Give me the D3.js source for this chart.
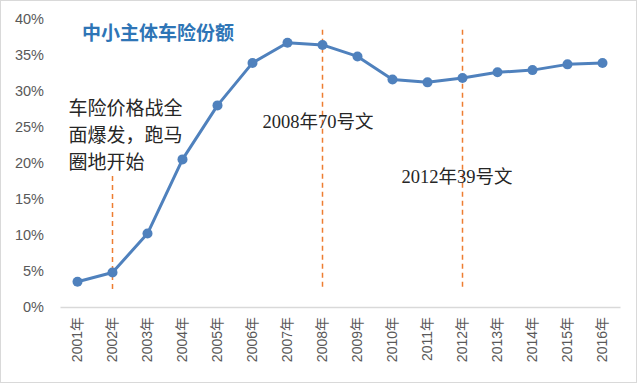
<!DOCTYPE html>
<html>
<head>
<meta charset="utf-8">
<script src="https://cdn.jsdelivr.net/npm/d3@7"></script>
<style>
  body { margin: 0; background: #fff; }
</style>
</head>
<body>
<script>
const years = ["2001年","2002年","2003年","2004年","2005年","2006年","2007年","2008年",
               "2009年","2010年","2011年","2012年","2013年","2014年","2015年","2016年"];
const share = [3.5, 4.8, 10.2, 20.5, 28.0, 33.9, 36.7, 36.4, 34.8, 31.6, 31.2, 31.8, 32.6, 32.9, 33.7, 33.9];
const yTicks = [0, 5, 10, 15, 20, 25, 30, 35, 40];
const markers = ["2002年", "2008年", "2012年"];
const title = "中小主体车险份额";
const notes = [
  {year: "2002年", lines: ["车险价格战全", "面爆发，跑马", "圈地开始"], dx: -44, y: 26.6},
  {year: "2008年", lines: ["2008年70号文"], dx: -60, y: 24.8},
  {year: "2012年", lines: ["2012年39号文"], dx: -61, y: 17.2}
];

const width = 640, height = 385;
const margin = {top: 19, right: 20, bottom: 78, left: 60};

const svg = d3.select("body").append("svg")
    .attr("width", width)
    .attr("height", height)
    .attr("font-family", "'Liberation Sans', 'Noto Sans CJK SC', sans-serif");

svg.append("rect")
    .attr("x", 0.5).attr("y", 0.5)
    .attr("width", 636).attr("height", 382)
    .attr("fill", "#fff")
    .attr("stroke", "#d9d9d9");

const x = d3.scaleBand()
    .domain(years)
    .range([margin.left, width - margin.right]);

const y = d3.scaleLinear()
    .domain([0, 40])
    .range([height - margin.bottom, margin.top]);

// y axis labels
svg.append("g")
    .attr("transform", `translate(${margin.left},0)`)
    .call(d3.axisLeft(y).tickValues(yTicks).tickFormat(d => d + "%").tickSize(0).tickPadding(16))
    .call(g => g.select(".domain").remove())
    .call(g => g.selectAll("text")
        .attr("font-size", 14.5)
        .attr("fill", "#595959")
        .attr("font-family", "'Liberation Sans', sans-serif"));

// x axis
const xAxis = svg.append("g")
    .attr("transform", `translate(0,${y(0)})`)
    .call(d3.axisBottom(x).tickSize(0));

xAxis.select(".domain")
    .attr("stroke", "#d9d9d9")
    .attr("stroke-width", 1.5);

xAxis.selectAll("text")
    .attr("font-size", 14)
    .attr("fill", "#595959")
    .attr("transform", "rotate(-90)")
    .attr("text-anchor", "end")
    .attr("x", -10)
    .attr("y", 0)
    .attr("dy", "0.35em")
    .attr("font-family", "'Liberation Sans', 'Noto Sans CJK SC', sans-serif");

// dashed markers
svg.append("g")
    .selectAll("line")
    .data(markers)
    .enter().append("line")
    .attr("x1", d => x(d) + x.bandwidth() / 2)
    .attr("x2", d => x(d) + x.bandwidth() / 2)
    .attr("y1", d => d === "2002年" ? y(18.2) : y(38.5))
    .attr("y2", y(2.5))
    .attr("stroke", "#ED7D31")
    .attr("stroke-width", 1.5)
    .attr("stroke-dasharray", "5,4");

// annotations
notes.forEach(n => {
  const t = svg.append("text")
      .attr("x", x(n.year) + x.bandwidth() / 2 + n.dx)
      .attr("y", y(n.y))
      .attr("fill", "#262626")
      .attr("font-size", n.lines.length > 1 ? 19 : 18.5)
      .attr("font-family", "'Liberation Serif', 'Noto Sans CJK SC', serif");
  n.lines.forEach((l, i) => {
    t.append("tspan")
        .attr("x", x(n.year) + x.bandwidth() / 2 + n.dx)
        .attr("dy", i === 0 ? 0 : 27)
        .text(l);
  });
});

// line
const line = d3.line()
    .x((d, i) => x(years[i]) + x.bandwidth() / 2)
    .y(d => y(d));

svg.append("path")
    .datum(share)
    .attr("fill", "none")
    .attr("stroke", "#4F81BD")
    .attr("stroke-width", 3)
    .attr("stroke-linejoin", "round")
    .attr("d", line);

svg.append("g")
    .selectAll("circle")
    .data(share)
    .enter().append("circle")
    .attr("cx", (d, i) => x(years[i]) + x.bandwidth() / 2)
    .attr("cy", d => y(d))
    .attr("r", 5)
    .attr("fill", "#4F81BD");

// title
svg.append("text")
    .attr("x", 82)
    .attr("y", 40)
    .attr("font-size", 19)
    .attr("font-weight", "bold")
    .attr("fill", "#2E75B6")
    .attr("font-family", "'Noto Sans CJK SC', sans-serif")
    .text(title);
</script>
</body>
</html>
